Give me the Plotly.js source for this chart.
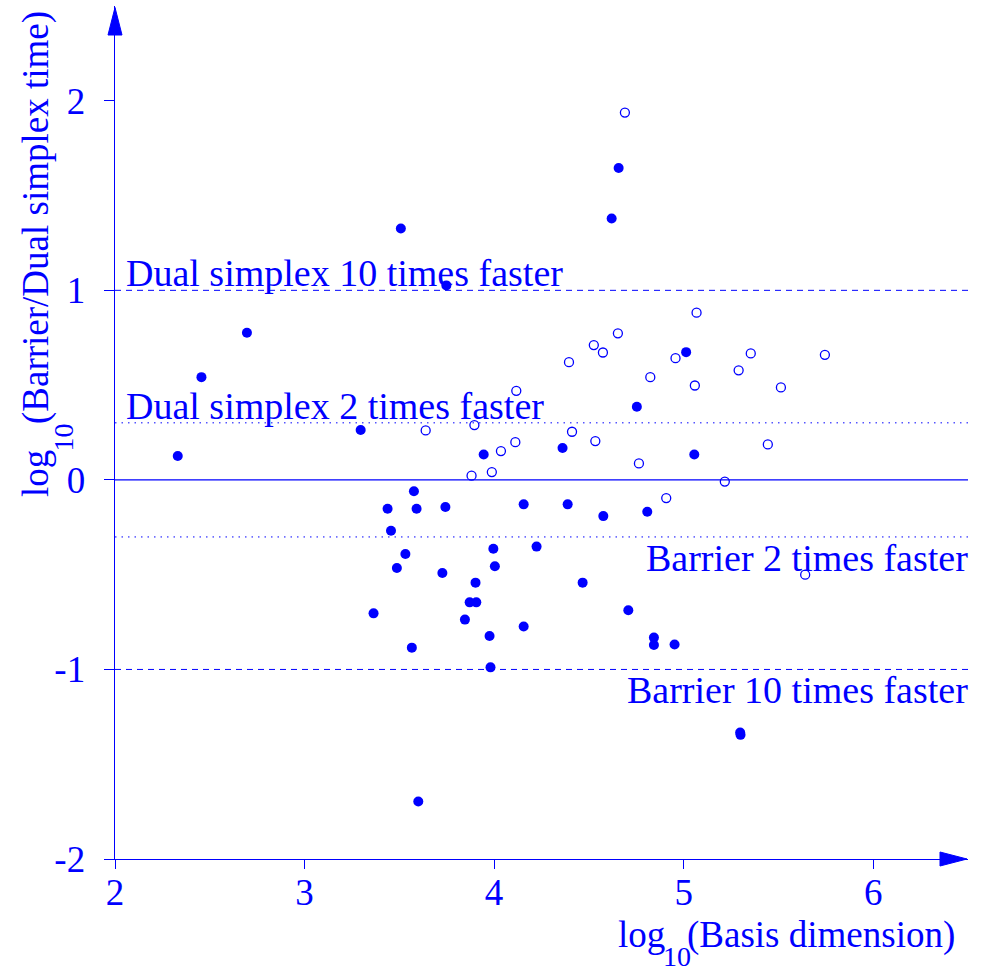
<!DOCTYPE html>
<html>
<head>
<meta charset="utf-8">
<script src="https://cdn.plot.ly/plotly-3.0.1.min.js"></script>
<style>
  html, body { margin: 0; padding: 0; background: #ffffff; }
  #chart { width: 987px; height: 973px; }
</style>
</head>
<body>
<div id="chart"></div>
<script>
// ---- Data (log10 basis dimension, log10 barrier/dual simplex time) ----
const filledX = [2.331, 2.456, 2.696, 3.296, 3.508, 3.748, 4.620, 4.657, 5.013, 4.753,
                 4.361, 3.945, 5.056, 3.577, 3.438, 3.591, 3.743, 4.156, 4.388, 4.576,
                 4.808, 3.456, 3.996, 4.224, 3.532, 3.487, 3.727, 4.004, 3.902, 4.467,
                 3.871, 3.906, 4.708, 3.364, 3.846, 4.156, 3.976, 4.843, 4.843, 4.952,
                 3.566, 3.981, 5.298, 5.300, 3.600];
const filledY = [0.126, 0.542, 0.776, 0.263, 1.326, 1.026, 1.379, 1.645, 0.674, 0.386,
                 0.168, 0.134, 0.134, -0.060, -0.152, -0.152, -0.143, -0.129, -0.129, -0.191,
                 -0.168, -0.268, -0.363, -0.352, -0.391, -0.465, -0.491, -0.456, -0.542, -0.542,
                 -0.646, -0.646, -0.688, -0.704, -0.737, -0.773, -0.824, -0.832, -0.871, -0.868,
                 -0.885, -0.989, -1.333, -1.345, -1.697];
const openX = [4.690, 5.068, 4.653, 4.526, 4.574, 4.395, 4.957, 5.354, 5.290, 5.745,
               4.824, 4.117, 5.059, 5.513, 3.896, 4.411, 4.534, 5.444, 4.112, 4.036,
               4.764, 3.988, 3.881, 5.217, 4.908, 5.641, 3.639];
const openY = [1.938, 0.882, 0.773, 0.711, 0.672, 0.621, 0.642, 0.667, 0.578, 0.660,
               0.542, 0.470, 0.498, 0.488, 0.289, 0.254, 0.205, 0.187, 0.199, 0.152,
               0.087, 0.041, 0.022, -0.009, -0.096, -0.500, 0.261];

const xTickVals = [2, 3, 4, 5, 6];
const xTickText = ["2", "3", "4", "5", "6"];
const yTickVals = [-2, -1, 0, 1, 2];
const yTickText = ["-2", "-1", "0", "1", "2"];

// reference levels: value and label
const refLevels = [1, Math.log10(2), 0, -Math.log10(2), -1];
const refDash   = ["6px,5px", "1.5px,5px", "solid", "1.5px,5px", "6px,5px"];
const refLabels = ["Dual simplex 10 times faster", "Dual simplex 2 times faster",
                   "Barrier 2 times faster", "Barrier 10 times faster"];

// ---- Layout geometry ----
const W = 987, H = 973;
const M = {l: 115, r: 19, t: 6, b: 114};
const PW = W - M.l - M.r, PH = H - M.t - M.b;
const BLUE = "#0000ff";
const FONT = "Liberation Serif, Times New Roman, serif";
const FS = 37, AFS = 38, SUBFS = 28;
const px2x = p => (p - M.l) / PW;
const py2y = p => (H - M.b - p) / PH;

const traces = [
  {
    x: filledX, y: filledY, type: "scatter", mode: "markers",
    marker: {symbol: "circle", size: 10, color: BLUE, line: {width: 0}},
    hoverinfo: "skip", showlegend: false
  },
  {
    x: openX, y: openY, type: "scatter", mode: "markers",
    marker: {symbol: "circle-open", size: 9, color: BLUE, line: {width: 1.3, color: BLUE}},
    hoverinfo: "skip", showlegend: false
  }
];

const shapes = refLevels.map((v, i) => ({
  type: "line", xref: "x", yref: "y", x0: 2, x1: 6.5, y0: v, y1: v,
  line: {color: BLUE, width: refDash[i] === "solid" ? 1.4 : 1, dash: refDash[i]},
  layer: "below"
}));
// axis arrowheads
shapes.push({
  type: "path", xref: "paper", yref: "paper",
  xsizemode: "pixel", ysizemode: "pixel", xanchor: 0, yanchor: 1,
  path: "M -7,-29 L 0,-1.5 L 7,-29 Z",
  fillcolor: BLUE, line: {color: BLUE, width: 1}
});
shapes.push({
  type: "path", xref: "paper", yref: "paper",
  xsizemode: "pixel", ysizemode: "pixel", xanchor: 1, yanchor: 0,
  path: "M -28,7 L -1,0 L -28,-7 Z",
  fillcolor: BLUE, line: {color: BLUE, width: 1}
});

const f = (s) => ({family: FONT, size: s, color: BLUE});
const ann = (text, x, y, xa, ya, size, angle) => ({
  text, xref: "paper", yref: "paper", x: px2x(x), y: py2y(y),
  xanchor: xa, yanchor: ya, showarrow: false, font: f(size),
  textangle: angle || 0, borderpad: 0
});

const annotations = [
  ann(refLabels[0], 125, 272.5, "left", "middle", AFS),
  ann(refLabels[1], 125, 405.5, "left", "middle", AFS),
  ann(refLabels[2], 969, 557.5, "right", "middle", AFS),
  ann(refLabels[3], 969, 689.5, "right", "middle", AFS),
  // x axis title
  ann("log", 617, 934.5, "left", "middle", FS),
  ann("10", 662, 956.5, "left", "middle", SUBFS),
  ann("(Basis dimension)", 686, 934.5, "left", "middle", FS),
  // y axis title (rotated)
  ann("log", 35.5, 498, "center", "bottom", FS, -90),
  ann("10", 62.5, 453, "center", "bottom", SUBFS, -90),
  ann("(Barrier/Dual simplex time)", 35.5, 425, "center", "bottom", FS, -90)
];

const layout = {
  width: W, height: H,
  margin: {l: M.l, r: M.r, t: M.t, b: M.b, pad: 0},
  paper_bgcolor: "#ffffff", plot_bgcolor: "#ffffff",
  showlegend: false,
  font: f(FS),
  xaxis: {
    range: [2, 6.5], showgrid: false, zeroline: false,
    showline: true, linecolor: BLUE, linewidth: 1.4,
    ticks: "outside", ticklen: 9, tickwidth: 1, tickcolor: BLUE,
    tickmode: "array", tickvals: xTickVals, ticktext: xTickText,
    tickfont: f(FS), ticklabelstandoff: -9
  },
  yaxis: {
    range: [-2, 2.5], showgrid: false, zeroline: false,
    showline: true, linecolor: BLUE, linewidth: 1.4,
    ticks: "outside", ticklen: 10, tickwidth: 1, tickcolor: BLUE,
    tickmode: "array", tickvals: yTickVals, ticktext: yTickText,
    tickfont: f(FS), ticklabelstandoff: 11
  },
  shapes, annotations
};

Plotly.newPlot("chart", traces, layout, {staticPlot: true, displayModeBar: false});
</script>
</body>
</html>
